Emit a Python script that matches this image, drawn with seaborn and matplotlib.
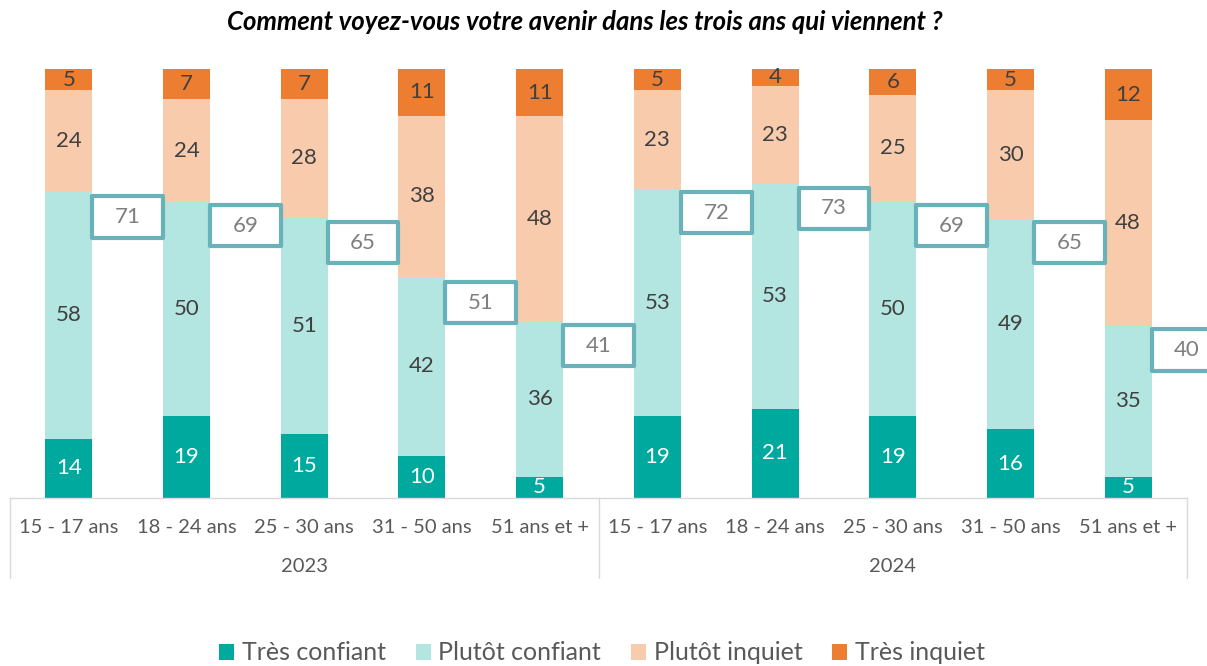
import matplotlib
matplotlib.use("Agg")
import matplotlib.pyplot as plt
from matplotlib.patches import Rectangle, Patch
import numpy as np
import pandas as pd
import seaborn as sns

# données
annees = ["2023", "2024"]
ages = ["15 - 17 ans", "18 - 24 ans", "25 - 30 ans", "31 - 50 ans", "51 ans et +"]
tres_confiant = [14, 19, 15, 10, 5, 19, 21, 19, 16, 5]
plutot_confiant = [58, 50, 51, 42, 36, 53, 53, 50, 49, 35]
plutot_inquiet = [24, 24, 28, 38, 48, 23, 23, 25, 30, 48]
tres_inquiet = [5, 7, 7, 11, 11, 5, 4, 6, 5, 12]
total_confiant = [71, 69, 65, 51, 41, 72, 73, 69, 65, 40]

series = ["Très confiant", "Plutôt confiant", "Plutôt inquiet", "Très inquiet"]
couleurs = ["#00A99D", "#B3E5E1", "#F8CBAD", "#ED7D31"]
couleurs_texte = ["white", "#404040", "#404040", "#404040"]

sns.set_theme(style="white")
plt.rcParams['font.family'] = ['Lato', 'DejaVu Sans']

cles = [f"{a}|{g}" for a in annees for g in ages]
valeurs = np.array([tres_confiant, plutot_confiant, plutot_inquiet, tres_inquiet], dtype=float)
pct = valeurs / valeurs.sum(axis=0) * 100  # graphique empilé 100 %
cumul = pct.cumsum(axis=0)

fig = plt.figure(figsize=(12.07, 6.66), dpi=100)
ax = fig.add_axes([10 / 1207, 168 / 666, 1177 / 1207, 429 / 666])

# barres empilées : on trace les cumuls du plus haut au plus bas
for k in range(3, -1, -1):
    df = pd.DataFrame({"cle": cles, "val": cumul[k]})
    sns.barplot(data=df, x="cle", y="val", order=cles, color=couleurs[k],
                width=0.4, linewidth=0, saturation=1, ax=ax)

# étiquettes des segments
for k in range(4):
    bas = cumul[k] - pct[k]
    for i in range(len(cles)):
        ax.text(i, bas[i] + pct[k][i] / 2, f"{int(valeurs[k][i])}", ha="center", va="center",
                fontsize=16, color=couleurs_texte[k])

# encadrés total confiant
larg, haut = 0.60, 9.6
for i, t in enumerate(total_confiant):
    yc = t - 5.5
    ax.add_patch(Rectangle((i + 0.5 - larg / 2, yc - haut / 2), larg, haut, facecolor="white",
                           edgecolor="#6AB2B9", linewidth=3, joinstyle="round", clip_on=False, zorder=5))
    ax.text(i + 0.5, yc, str(t), ha="center", va="center", fontsize=16, color="#7F7F7F",
            zorder=6, clip_on=False)

ax.set_xlim(-0.5, 9.5)
ax.set_ylim(0, 100)
ax.set_yticks([])
ax.set_ylabel("")
ax.set_xlabel("")
ax.set_xticks(range(len(cles)))
ax.set_xticklabels(ages * 2, fontsize=14.5, color="#595959")
ax.tick_params(axis="x", length=0, pad=15)
for s in ["top", "left", "right"]:
    ax.spines[s].set_visible(False)
ax.spines["bottom"].set_color("#D9D9D9")
ax.spines["bottom"].set_linewidth(1)

# séparateurs et années
trans = ax.get_xaxis_transform()
for xs in [-0.5, 4.5, 9.5]:
    ax.plot([xs, xs], [0, -80 / 429], transform=trans, color="#D9D9D9", linewidth=1, clip_on=False)
for j, a in enumerate(annees):
    ax.text(2 + 5 * j, -69 / 429, a, transform=trans, ha="center", va="center",
            fontsize=14.5, color="#595959")

fig.text(585 / 1207, 1 - 22 / 666, "Comment voyez-vous votre avenir dans les trois ans qui viennent ?",
         ha="center", va="center", fontsize=18.5, fontweight="bold", fontstyle="italic", color="black")

poignees = [Patch(facecolor=c, edgecolor="none", label=s) for s, c in zip(series, couleurs)]
fig.legend(handles=poignees, loc="center", bbox_to_anchor=(602 / 1207, 13 / 666), ncol=4, frameon=False,
           fontsize=18, handlelength=0.6, handleheight=0.6, handletextpad=0.3, columnspacing=1.2,
           labelcolor="#595959")

fig.savefig("out.png", dpi=100)
